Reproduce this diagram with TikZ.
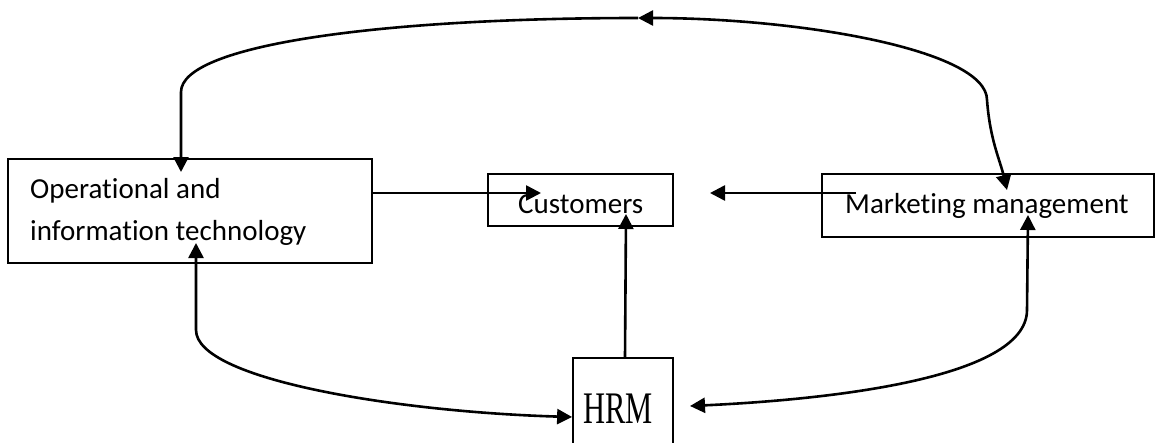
\documentclass[tikz,border=0pt]{standalone}
\usepackage{fontspec}
\setmainfont[RawFeature={-liga,-calt,-clig,-dlig}]{Carlito}
\newfontfamily\hrmfont{Liberation Serif}
\usetikzlibrary{arrows.meta}
\tikzset{
  box/.style={draw, line width=1.8pt, rectangle, inner sep=0pt, anchor=center},
  lbl/.style={anchor=base west, inner sep=0pt, font=\fontsize{29}{35}\selectfont},
  arr/.style={line width=2.6pt, -{Triangle[length=15pt,width=15pt]}},
  darr/.style={line width=2.6pt, {Triangle[length=15pt,width=15pt]}-{Triangle[length=15pt,width=15pt]}}
}
\begin{document}
\begin{tikzpicture}[x=1pt,y=-1pt]
\useasboundingbox (0,0) rectangle (1156,442);
% boxes
\node[box, minimum width=364pt, minimum height=104pt] (ops) at (190,211) {};
\node[box, minimum width=185pt, minimum height=52pt] (cust) at (580.5,200) {};
\node[box, minimum width=332pt, minimum height=63pt] (mkt) at (988,205.5) {};
\node[box, minimum width=100pt, minimum height=110pt] (hrm) at (623,413) {};
% labels
\node[lbl] (opsl1) at (30,198) {Operational and};
\node[lbl] (opsl2) at (30,240) {information technology};
\node[lbl] (custl) at (518,213) {Customers};
\node[lbl] (mktl) at (845,213) {Marketing management};
\node[anchor=base, inner sep=0pt, font=\hrmfont\fontsize{30.5}{36}\selectfont] (hrml) at (618,423) {\scalebox{1}[1.48]{HRM}};
% coordinates
\coordinate (a1s) at (ops.east |- 0,193);
\coordinate (a1e) at (541,193);
\coordinate (a2s) at (856,193);
\coordinate (a2e) at (710,193);
\coordinate (a3s) at (625,0 |- hrm.north);
\coordinate (a3e) at (626,214);
\coordinate (top) at (638,18);
\coordinate (tl) at (181,92);
\coordinate (tlt) at (181,172);
\coordinate (tr) at (987,100);
\coordinate (trt) at (1007,190);
\coordinate (bl) at (196,330);
\coordinate (blt) at (196,243);
\coordinate (blh) at (hrm.west |- 0,417);
\coordinate (br) at (1027,310);
\coordinate (brt) at (1028,215);
\coordinate (brh) at (690,406);
% straight arrows
\draw[arr] (a1s) -- (a1e);
\draw[arr] (a2s) -- (a2e);
\draw[arr] (a3s) -- (a3e);
% top loop
\draw[darr] (top) .. controls (800,18) and (987,50) .. (tr) .. controls (990,140) and (1000,160) .. (trt);
\draw[arr] (top) .. controls (380,18) and (181,45) .. (tl) -- (tlt);
% bottom left
\draw[darr] (blt) -- (bl) .. controls (196,380) and (400,412) .. (blh);
% bottom right
\draw[darr] (brt) -- (br) .. controls (1027,380) and (820,400) .. (brh);
\end{tikzpicture}
\end{document}
